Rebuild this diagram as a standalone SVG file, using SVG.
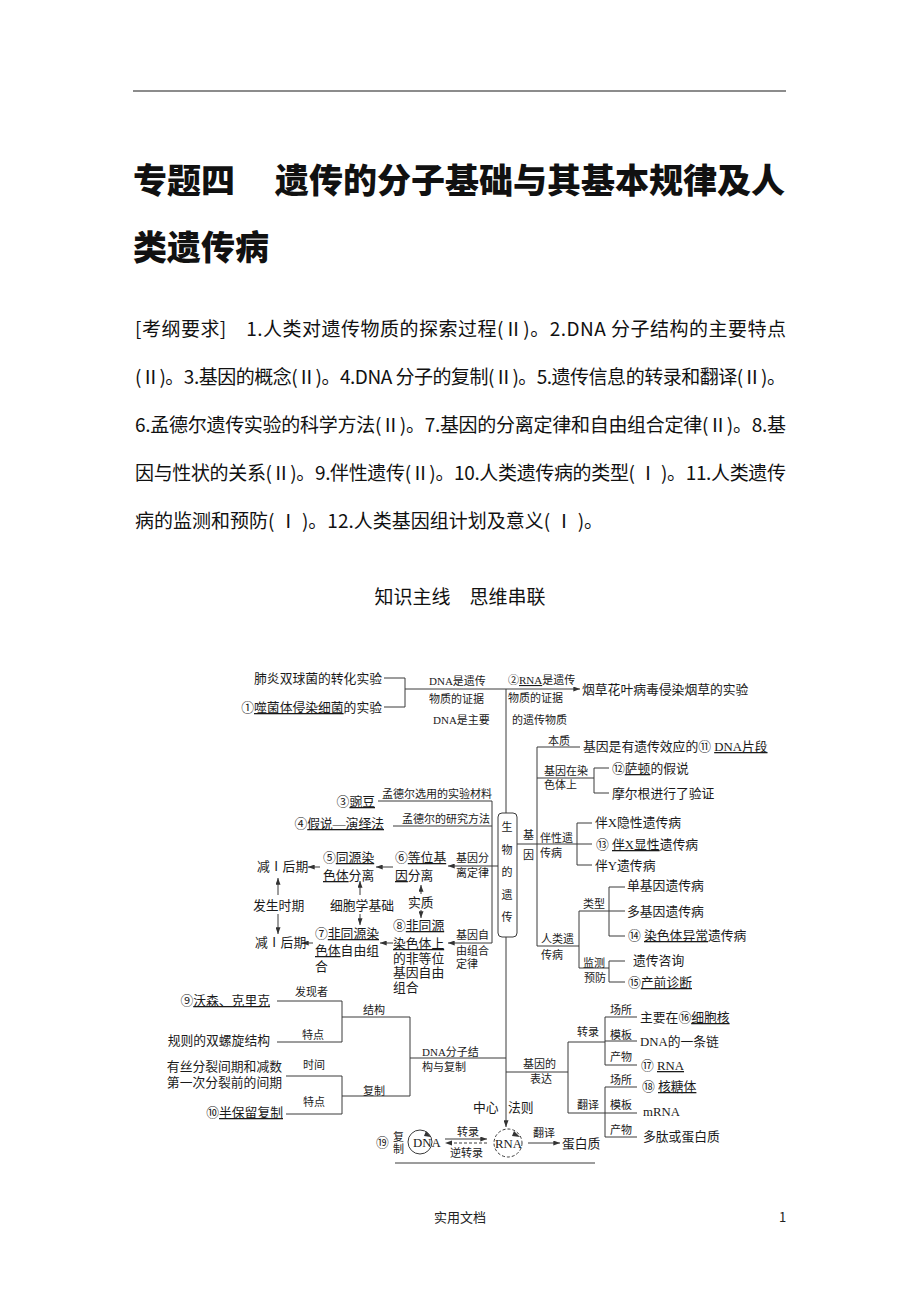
<svg xmlns="http://www.w3.org/2000/svg" width="920" height="1302" viewBox="0 0 920 1302">
<style>
.title{font-family:"Noto Sans CJK SC",sans-serif;font-weight:900;font-size:34px;fill:#111}
.para{font-family:"Noto Sans CJK SC",sans-serif;font-size:19px;fill:#111}
.sub{font-family:"Noto Sans CJK SC",sans-serif;font-size:19px;fill:#111}
.foot{font-family:"Noto Sans CJK SC",sans-serif;font-size:13px;fill:#222}
.d{font-family:"Liberation Serif","Noto Sans CJK SC",serif;font-size:12.8px;fill:#1a1a1a}
.s{font-family:"Liberation Serif","Noto Sans CJK SC",serif;font-size:11px;fill:#1a1a1a}
.u{text-decoration:underline}
.ln{stroke:#3a3a3a;stroke-width:1;fill:none}
.ar{stroke:#3a3a3a;stroke-width:1;fill:none;marker-end:url(#arr)}
.dash{stroke:#3a3a3a;stroke-width:1;fill:none;stroke-dasharray:3 2}
</style>
<defs>
<marker id="arr" viewBox="0 0 8 6" refX="8" refY="3" markerWidth="7" markerHeight="5" markerUnits="userSpaceOnUse" orient="auto"><path d="M0,0 L8,3 L0,6 z" fill="#333"/></marker>
</defs>
<rect width="920" height="1302" fill="#fff"/>
<line x1="133" y1="91" x2="786" y2="91" stroke="#666" stroke-width="1.5"/>
<g id="title">
<text class="title" x="133" y="193">专题四</text>
<text class="title" x="275" y="193">遗传的分子基础与其基本规律及人</text>
<text class="title" x="133" y="260">类遗传病</text>
</g>
<g id="syllabus">
<text class="para" x="135" y="336" textLength="651" lengthAdjust="spacing">[考纲要求]　1.人类对遗传物质的探索过程(Ⅱ)。2.DNA 分子结构的主要特点</text>
<text class="para" x="135" y="384" textLength="651" lengthAdjust="spacing">(Ⅱ)。3.基因的概念(Ⅱ)。4.DNA 分子的复制(Ⅱ)。5.遗传信息的转录和翻译(Ⅱ)。</text>
<text class="para" x="135" y="432" textLength="651" lengthAdjust="spacing">6.孟德尔遗传实验的科学方法(Ⅱ)。7.基因的分离定律和自由组合定律(Ⅱ)。8.基</text>
<text class="para" x="135" y="480" textLength="651" lengthAdjust="spacing">因与性状的关系(Ⅱ)。9.伴性遗传(Ⅱ)。10.人类遗传病的类型( Ⅰ )。11.人类遗传</text>
<text class="para" x="135" y="528">病的监测和预防( Ⅰ )。12.人类基因组计划及意义( Ⅰ )。</text>
</g>
<text class="sub" x="460" y="604" text-anchor="middle">知识主线　思维串联</text>

<g id="connectors">
<path class="ln" d="M384 678H405V707H384"/>
<path class="ar" d="M405 689H580"/>
<path class="ln" d="M506 689V813"/>
<rect class="ln" x="498" y="813" width="19" height="124" rx="4"/>
<path class="ar" d="M506 937V1127"/>
<path class="ln" d="M537 747V946M537 747H580M537 778H594M594 768V793M594 768H609M594 793H609"/>
<path class="ln" d="M517 844H577M577 823V865M577 823H592M577 844H592M577 865H592"/>
<path class="ln" d="M537 946H579M579 911V968M579 911H625M609 887V936M609 887H625M609 936H625M579 968H609M609 961V982M609 961H625M609 982H625"/>
<path class="ln" d="M378 801H492V943M393 826H492"/>
<path class="ar" d="M498 866H448"/>
<path class="ar" d="M393 867H376"/>
<path class="ar" d="M320 867H308"/>
<path class="ar" d="M278 895V878"/>
<path class="ar" d="M360 895V881"/>
<path class="ar" d="M421 894V885"/>
<path class="ar" d="M278 914V934"/>
<path class="ar" d="M360 914V925"/>
<path class="ar" d="M421 910V918"/>
<path class="ar" d="M492 943H448"/>
<path class="ar" d="M393 943H380"/>
<path class="ar" d="M313 943H302"/>
<path class="ln" d="M277 1001H342V1042H277M342 1017H410V1096M286 1076H342V1114H286M342 1096H410M410 1058H506"/>
<path class="ln" d="M506 1072H568M568 1042V1113M568 1042H605M568 1113H605M605 1017V1065M605 1017H637M605 1041H637M605 1065H637M605 1087V1137M605 1087H637M605 1113H637M605 1137H637"/>
<path class="ar" d="M445 1139H487"/>
<path class="dash" d="M487 1143H451"/>
<path d="M445 1143L452 1140.5L452 1145.5z" fill="#333"/>
<path class="ar" d="M528 1143H560"/>
<path class="ln" d="M395 1163H595"/>
</g>

<g id="n-evidence">
<text class="d" x="382" y="683" text-anchor="end">肺炎双球菌的转化实验</text>
<text class="d" x="382" y="712" text-anchor="end">①<tspan class="u">噬菌体侵染细菌</tspan>的实验</text>
<text class="s" x="429" y="685">DNA是遗传</text>
<text class="s" x="429" y="703">物质的证据</text>
<text class="s" x="433" y="724">DNA是主要</text>
<text class="s" x="508" y="684">②<tspan class="u">RNA</tspan>是遗传</text>
<text class="s" x="508" y="702">物质的证据</text>
<text class="s" x="512" y="724">的遗传物质</text>
<text class="d" x="582" y="694">烟草花叶病毒侵染烟草的实验</text>
</g>
<g id="n-root">
<text class="s" x="507" y="831" text-anchor="middle">生</text>
<text class="s" x="507" y="854" text-anchor="middle">物</text>
<text class="s" x="507" y="876" text-anchor="middle">的</text>
<text class="s" x="507" y="899" text-anchor="middle">遗</text>
<text class="s" x="507" y="921" text-anchor="middle">传</text>
</g>
<g id="n-gene">
<text class="s" x="523" y="839">基</text>
<text class="s" x="523" y="859">因</text>
<text class="s" x="548" y="745">本质</text>
<text class="d" x="583" y="751">基因是有遗传效应的⑪ <tspan class="u">DNA片段</tspan></text>
<text class="s" x="544" y="775">基因在染</text>
<text class="s" x="544" y="789">色体上</text>
<text class="d" x="612" y="773">⑫<tspan class="u">萨顿</tspan>的假说</text>
<text class="d" x="612" y="798">摩尔根进行了验证</text>
</g>
<g id="n-sexlinked">
<text class="s" x="540" y="842">伴性遗</text>
<text class="s" x="540" y="857">传病</text>
<text class="d" x="595" y="827">伴X隐性遗传病</text>
<text class="d" x="596" y="849">⑬ <tspan class="u">伴X显性</tspan>遗传病</text>
<text class="d" x="595" y="870">伴Y遗传病</text>
</g>
<g id="n-human">
<text class="s" x="541" y="943">人类遗</text>
<text class="s" x="541" y="959">传病</text>
<text class="s" x="583" y="908">类型</text>
<text class="d" x="627" y="890">单基因遗传病</text>
<text class="d" x="627" y="916">多基因遗传病</text>
<text class="d" x="628" y="940">⑭ <tspan class="u">染色体异常</tspan>遗传病</text>
<text class="s" x="583" y="967">监测</text>
<text class="s" x="584" y="982">预防</text>
<text class="d" x="633" y="965">遗传咨询</text>
<text class="d" x="628" y="987">⑮<tspan class="u">产前诊断</tspan></text>
</g>
<g id="n-mendel">
<text class="s" x="382" y="798">孟德尔选用的实验材料</text>
<text class="d" x="375" y="806" text-anchor="end">③<tspan class="u">豌豆</tspan></text>
<text class="s" x="402" y="823">孟德尔的研究方法</text>
<text class="d" x="384" y="828" text-anchor="end">④<tspan class="u">假说—演绎法</tspan></text>
</g>
<g id="n-segregation">
<text class="s" x="456" y="862">基因分</text>
<text class="s" x="456" y="877">离定律</text>
<text class="d" x="395" y="862">⑥<tspan class="u">等位基</tspan></text>
<text class="d" x="395" y="880"><tspan class="u">因</tspan>分离</text>
<text class="d" x="323" y="862">⑤<tspan class="u">同源染</tspan></text>
<text class="d" x="323" y="880"><tspan class="u">色体</tspan>分离</text>
<text class="d" x="257" y="871">减Ⅰ后期</text>
</g>
<g id="n-mid">
<text class="d" x="253" y="910">发生时期</text>
<text class="d" x="330" y="910">细胞学基础</text>
<text class="d" x="408" y="907">实质</text>
</g>
<g id="n-assortment">
<text class="s" x="456" y="939">基因自</text>
<text class="s" x="456" y="955">由组合</text>
<text class="s" x="456" y="968">定律</text>
<text class="d" x="393" y="930">⑧<tspan class="u">非同源</tspan></text>
<text class="d" x="393" y="948"><tspan class="u">染色体上</tspan></text>
<text class="d" x="393" y="963">的非等位</text>
<text class="d" x="393" y="977">基因自由</text>
<text class="d" x="393" y="992">组合</text>
<text class="d" x="315" y="938">⑦<tspan class="u">非同源染</tspan></text>
<text class="d" x="315" y="955"><tspan class="u">色体</tspan>自由组</text>
<text class="d" x="315" y="971">合</text>
<text class="d" x="255" y="947">减Ⅰ后期</text>
</g>
<g id="n-dna">
<text class="d" x="270" y="1005" text-anchor="end">⑨<tspan class="u">沃森、克里克</tspan></text>
<text class="s" x="295" y="996">发现者</text>
<text class="d" x="270" y="1045" text-anchor="end">规则的双螺旋结构</text>
<text class="s" x="302" y="1039">特点</text>
<text class="s" x="363" y="1014">结构</text>
<text class="d" x="282" y="1071" text-anchor="end">有丝分裂间期和减数</text>
<text class="d" x="282" y="1087" text-anchor="end">第一次分裂前的间期</text>
<text class="s" x="303" y="1069">时间</text>
<text class="d" x="283" y="1117" text-anchor="end">⑩<tspan class="u">半保留复制</tspan></text>
<text class="s" x="303" y="1106">特点</text>
<text class="s" x="363" y="1095">复制</text>
<text class="s" x="422" y="1056">DNA分子结</text>
<text class="s" x="422" y="1071">构与复制</text>
</g>
<g id="n-expression">
<text class="s" x="523" y="1068">基因的</text>
<text class="s" x="530" y="1083">表达</text>
<text class="s" x="577" y="1036">转录</text>
<text class="s" x="577" y="1109">翻译</text>
<text class="s" x="610" y="1014">场所</text>
<text class="s" x="610" y="1039">模板</text>
<text class="s" x="610" y="1061">产物</text>
<text class="d" x="640" y="1022">主要在⑯<tspan class="u">细胞核</tspan></text>
<text class="d" x="640" y="1046">DNA的一条链</text>
<text class="d" x="641" y="1070">⑰ <tspan class="u">RNA</tspan></text>
<text class="s" x="610" y="1084">场所</text>
<text class="s" x="610" y="1109">模板</text>
<text class="s" x="610" y="1134">产物</text>
<text class="d" x="642" y="1091">⑱ <tspan class="u">核糖体</tspan></text>
<text class="d" x="643" y="1116">mRNA</text>
<text class="d" x="643" y="1141">多肽或蛋白质</text>
</g>
<g id="n-dogma">
<text class="d" x="473" y="1112">中心</text>
<text class="d" x="508" y="1112">法则</text>
<text class="d" x="376" y="1147">⑲</text>
<text class="s" x="393" y="1141">复</text>
<text class="s" x="393" y="1153">制</text>
<circle class="ln" cx="420" cy="1142" r="12"/>
<path d="M426 1131L431 1137L424 1136z" fill="#333"/>
<text class="d" x="413" y="1147">DNA</text>
<text class="s" x="457" y="1136">转录</text>
<text class="s" x="450" y="1157">逆转录</text>
<circle class="dash" cx="508" cy="1143" r="14"/>
<path d="M514 1131L520 1137L512 1136z" fill="#333"/>
<text class="d" x="495" y="1148">RNA</text>
<text class="s" x="533" y="1137">翻译</text>
<text class="d" x="562" y="1148">蛋白质</text>
</g>
<g id="footer">
<text class="foot" x="460" y="1222" text-anchor="middle">实用文档</text>
<text class="foot" x="779" y="1222">1</text>
</g>
</svg>
